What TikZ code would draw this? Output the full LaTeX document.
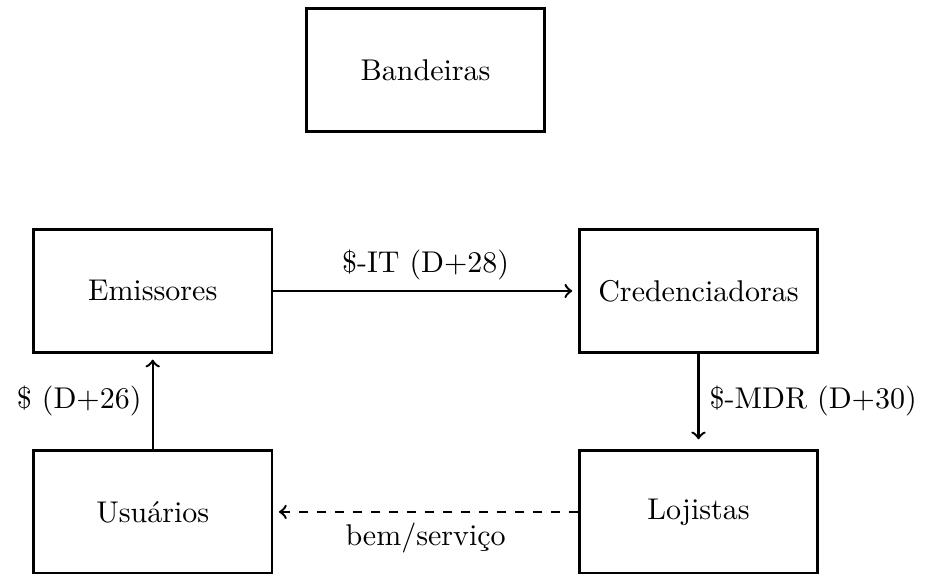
\documentclass[tikz,border=0pt]{standalone}
\usepackage{tikz}

\begin{document}
\begin{tikzpicture}[thick, box/.style = {draw=black, text=black, rectangle, anchor=center, minimum width=2.79cm, minimum height=1.44cm},
        flow/.style = {-to, draw=black, thick, shorten >=2pt}]
        \useasboundingbox (-141.9pt,-94.3pt) rectangle (166.5pt,97.0pt);
        \matrix [column sep=10.8pt, row sep=31.9pt]{
                           & \node[box] (1) {Bandeiras}; & \\
    \node[box] (2) {Emissores}; & & \node[box] (3) {Credenciadoras}; \\
    \node[box] (4) {Usuários}; & & \node[box] (5) {Lojistas}; \\
    };
    \draw[flow] (2) edge node [above] {\$-IT (D+28)} (3);
    \draw[flow, shorten >=3.3pt] (3) edge node [right] {\$-MDR (D+30)} (5);
    \draw[flow] (4) edge node [left] {\$ (D+26)} (2);
    \draw[flow, dashed] (5) edge node [below] {bem/serviço} (4);
    \end{tikzpicture}
\end{document}
